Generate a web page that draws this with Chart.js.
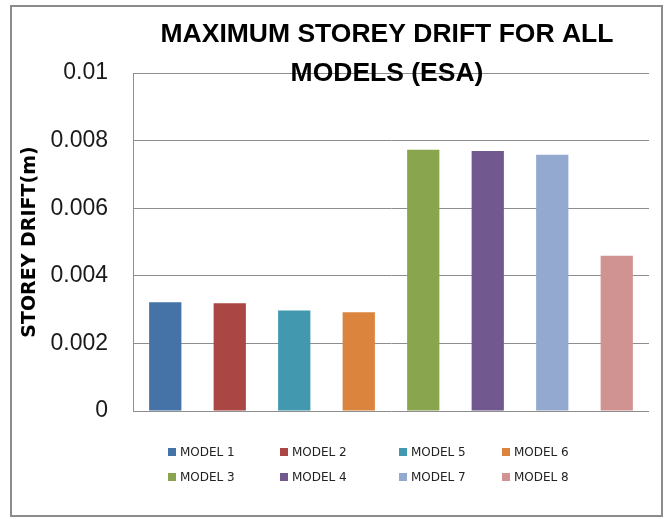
<!DOCTYPE html>
<html>
<head>
<meta charset="utf-8">
<title>Maximum storey drift</title>
<script src="https://cdn.jsdelivr.net/npm/chart.js@4.4.1/dist/chart.umd.min.js"></script>
<style>
    html, body {
        margin: 0;
        padding: 0;
        background: #ffffff;
    }
    #frame {
        position: absolute;
        left: 10px;
        top: 5px;
        width: 653px;
        height: 512px;
        border: 2px solid #8c8c8c;
        box-sizing: border-box;
    }
    #driftChart {
        display: block;
    }
    #legend {
        position: absolute;
        left: 168px;
        top: 439px;
        display: grid;
        grid-template-columns: 112px 119px 103px 80px;
        grid-auto-rows: 25.5px;
        align-items: center;
        font-family: "DejaVu Sans", sans-serif;
        font-size: 12px;
        color: #222222;
    }
    #legend .item {
        display: flex;
        align-items: center;
        white-space: nowrap;
    }
    #legend .box {
        width: 8px;
        height: 8px;
        margin-right: 4px;
    }
</style>
</head>
<body>
<div id="frame">
    <canvas id="driftChart" width="649" height="508"></canvas>
</div>
<div id="legend"></div>

<script>
// bars in plotted order (legend reads in the same order)
var modelNames = ['MODEL 1', 'MODEL 2', 'MODEL 5', 'MODEL 6', 'MODEL 3', 'MODEL 4', 'MODEL 7', 'MODEL 8'];
var maxDrift = [0.00322, 0.00319, 0.00297, 0.00292, 0.00773, 0.00769, 0.00758, 0.00459];
var barColors = ['#4572A7', '#AA4643', '#4198AF', '#DB843D', '#89A54E', '#71588F', '#93A9CF', '#D19392'];

var yTickLabels = ['0', '0.002', '0.004', '0.006', '0.008', '0.01'];
var titleLines = ['MAXIMUM STOREY DRIFT FOR ALL', 'MODELS (ESA)'];

(function (window) {

    // title sits over the top of the plot, so draw it by hand instead of using the title plugin
    var overlayTitle = {
        id: 'overlayTitle',
        afterDraw: function (chart) {
            var ctx = chart.ctx;
            var area = chart.chartArea;
            var cx = (area.left + area.right) / 2 - 4;
            ctx.save();
            ctx.fillStyle = '#000000';
            ctx.font = 'bold 26.5px "Liberation Sans", Arial, sans-serif';
            ctx.textAlign = 'center';
            ctx.textBaseline = 'alphabetic';
            ctx.fillText(titleLines[0], cx, area.top - 31);
            ctx.fillText(titleLines[1], cx, area.top + 8);
            ctx.restore();
        }
    };

    // legend built as html so the four columns can be spaced freely
    var htmlLegend = {
        id: 'htmlLegend',
        afterUpdate: function (chart) {
            var box = document.getElementById('legend');
            box.innerHTML = '';
            chart.data.datasets.forEach(function (ds) {
                var item = document.createElement('div');
                item.className = 'item';
                var swatch = document.createElement('span');
                swatch.className = 'box';
                swatch.style.background = ds.backgroundColor;
                var text = document.createElement('span');
                text.textContent = ds.label;
                item.appendChild(swatch);
                item.appendChild(text);
                box.appendChild(item);
            });
        }
    };

    function initializeChart() {
        var ctx = document.getElementById('driftChart');
        if (!ctx) {
            return;
        }

        var datasets = modelNames.map(function (name, i) {
            return {
                label: name,
                data: [maxDrift[i]],
                backgroundColor: barColors[i],
                borderWidth: 0
            };
        });

        new Chart(ctx.getContext('2d'), {
            type: 'bar',
            data: {
                labels: [''],
                datasets: datasets
            },
            options: {
                responsive: false,
                animation: false,
                categoryPercentage: 1,
                barPercentage: 0.5,
                layout: {
                    padding: { left: 0, right: 12, top: 66, bottom: 104 }
                },
                plugins: {
                    legend: { display: false },
                    title: { display: false },
                    tooltip: { enabled: false }
                },
                scales: {
                    x: {
                        display: false
                    },
                    y: {
                        min: 0,
                        max: 0.01,
                        afterFit: function (scale) {
                            scale.width = 121;
                        },
                        afterBuildTicks: function (scale) {
                            scale.ticks = yTickLabels.map(function (t) {
                                return { value: parseFloat(t) };
                            });
                        },
                        ticks: {
                            padding: 25,
                            color: '#1a1a1a',
                            font: { family: '"Liberation Sans", Arial, sans-serif', size: 23 },
                            callback: function (value, index) {
                                return yTickLabels[index];
                            }
                        },
                        grid: {
                            color: '#8e8e8e',
                            lineWidth: 1,
                            drawTicks: false
                        },
                        border: {
                            display: true,
                            color: '#8e8e8e',
                            width: 1
                        },
                        title: {
                            display: true,
                            text: 'STOREY DRIFT(m)',
                            color: '#000000',
                            padding: { top: 7, bottom: 0 },
                            font: { family: '"DejaVu Sans", sans-serif', size: 19, weight: 'bold' }
                        }
                    }
                }
            },
            plugins: [overlayTitle, htmlLegend]
        });
    }

    document.addEventListener('DOMContentLoaded', initializeChart);

})(window);
</script>
</body>
</html>
